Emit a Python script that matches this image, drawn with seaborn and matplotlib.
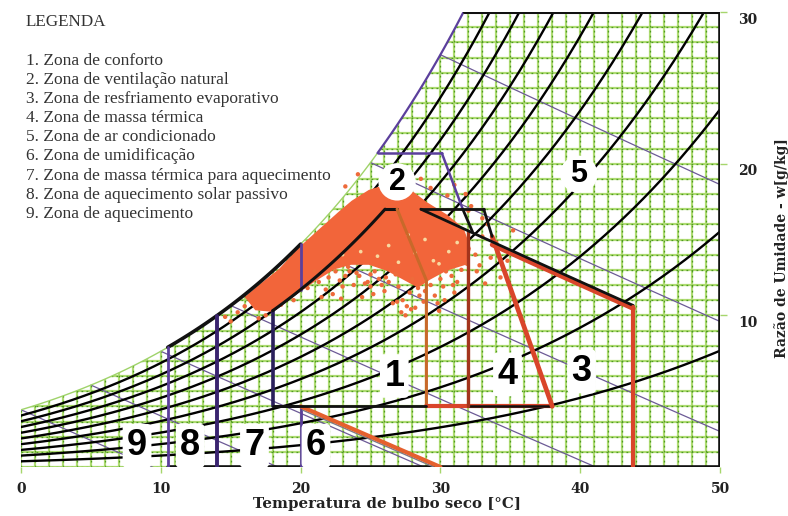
import numpy as np
import pandas as pd
import seaborn as sns
import matplotlib.pyplot as plt
from matplotlib.patches import Polygon
from matplotlib.transforms import ScaledTranslation

sns.set_theme(style="white")
plt.rcParams["font.family"] = ["DejaVu Sans"]

# ---------------------------------------------------------------- data
x_ticks = [0, 10, 20, 30, 40, 50]
y_ticks = [10, 20, 30]
rh_levels = [0.1, 0.2, 0.3, 0.4, 0.5, 0.6, 0.7, 0.8, 0.9]
twb_levels = [0, 5, 10, 15, 20, 25, 30]

legend_items = [
    "1. Zona de conforto",
    "2. Zona de ventilação natural",
    "3. Zona de resfriamento evaporativo",
    "4. Zona de massa térmica",
    "5. Zona de ar condicionado",
    "6. Zona de umidificação",
    "7. Zona de massa térmica para aquecimento",
    "8. Zona de aquecimento solar passivo",
    "9. Zona de aquecimento",
]

# dense part of the hourly climate cloud (T [°C], w [g/kg])
cloud_T = [16.1, 17.0, 18.5, 19.9, 21.1, 22.8, 23.7, 24.9, 25.9, 27.0, 28.0, 29.0,
           30.4, 31.6, 32.1, 31.8, 30.4, 29.2, 28.4, 27.4, 26.2, 24.9, 23.6, 22.4,
           21.0, 19.9, 18.0, 16.8]
cloud_w = [11.2, 11.9, 13.0, 14.4, 15.4, 16.8, 17.5, 18.2, 18.5, 18.4, 18.1, 17.4,
           16.6, 15.7, 14.4, 13.4, 13.0, 12.4, 11.9, 12.4, 13.0, 13.4, 13.4, 13.1,
           12.3, 11.6, 10.3, 10.4]

# scattered hours around the cloud
dots_T = [20.5, 21.3, 22.0, 22.8, 23.5, 24.2, 25.0, 25.6, 26.3, 27.0, 27.8, 28.5,
          29.3, 30.0, 30.8, 31.5, 32.5, 33.0, 21.8, 23.0, 24.6, 26.0, 27.3, 28.8,
          30.2, 31.2, 25.2, 27.6, 29.6, 32.8, 33.4, 34.0, 22.5, 24.0, 19.5, 17.5,
          16.0, 15.5, 27.2, 28.2, 29.8, 31.0, 33.6, 34.3, 26.6, 24.8, 23.2, 25.8,
          23.2, 24.1, 29.3, 30.5, 31.0, 32.2, 28.6, 31.8, 33.0,
          21.5, 22.3, 23.8, 25.3, 26.8, 28.0, 29.0, 30.4, 31.9, 32.6, 24.4, 26.9,
          28.4, 30.9, 17.0, 15.0, 14.6, 18.6, 22.9, 27.5, 29.9, 33.2, 34.8, 35.2,
          21.0, 23.4, 26.1, 28.9, 31.4, 32.0, 20.2, 25.0, 27.9, 30.3]
dots_w = [11.8, 12.2, 12.5, 12.3, 12.9, 12.6, 12.7, 12.4, 12.2, 11.9, 11.5, 11.3,
          12.0, 12.4, 12.6, 13.0, 14.0, 15.2, 11.7, 11.9, 12.1, 11.6, 11.0, 10.9,
          11.9, 12.2, 11.4, 10.6, 11.3, 13.3, 16.0, 14.8, 12.9, 12.8, 11.0, 10.0,
          10.6, 10.2, 10.2, 10.5, 10.8, 11.5, 13.8, 12.5, 10.8, 12.2, 12.6, 12.0,
          18.5, 19.3, 18.4, 17.9, 18.6, 17.2, 19.0, 18.0, 16.4,
          11.2, 11.4, 12.0, 12.9, 12.7, 12.4, 12.8, 12.9, 13.4, 12.9, 11.2, 10.9,
          11.8, 12.0, 9.8, 9.6, 9.9, 10.7, 11.1, 10.0, 10.3, 12.1, 13.6, 15.6,
          12.9, 13.2, 12.5, 11.6, 13.4, 16.9, 11.9, 11.9, 10.4, 11.0]
pale_T = [25.5, 27.0, 28.2, 29.5, 30.6, 26.3, 28.9, 24.3, 31.2, 27.7, 23.0, 29.9]
pale_w = [13.9, 13.5, 14.1, 13.6, 14.2, 14.6, 15.0, 14.2, 14.8, 15.3, 14.0, 13.4]

# zone boundaries
heat_T = [10.5, 14.0]                 # zones 9 | 8 | 7 limits
comfort_T = [18.0, 29.0]
comfort_w_min = 4.0
comfort_rh = 0.8
comfort_w_top = 17.0
comfort_apex_T = 26.9
comfort_knee = (29.0, 12.3)
humid_line_T = [20.0, 30.0]
humid_line_w = [4.0, 0.0]
vent_top_w = 20.7
vent_edge_T = [30.1, 31.6, 32.3]
vent_edge_w = [20.7, 17.0, 15.5]
mass_T = 32.0
mass_edge_T = [33.1, 33.7, 38.0]
mass_edge_w = [17.0, 15.2, 4.0]
evap_twb = 24.0
evap_T_range = [28.6, 43.8]

labels = ["1", "2", "3", "4", "5", "6", "7", "8", "9"]
label_T = [26.7, 26.9, 40.1, 34.8, 39.9, 21.1, 16.7, 12.1, 8.3]
label_w = [6.0, 18.8, 6.3, 6.1, 19.3, 1.4, 1.4, 1.4, 1.4]

# ---------------------------------------------------------- psychrometrics
P_ATM = 101.325


def w_of(T, rh=1.0):
    T = np.asarray(T, dtype=float)
    ps = 0.61078 * np.exp(17.27 * T / (T + 237.3))
    pv = rh * ps
    return 622.0 * pv / (P_ATM - pv)


def w_wetbulb(T, twb):
    T = np.asarray(T, dtype=float)
    ws = w_of(twb) / 1000.0
    return 1000.0 * ((2501 - 2.326 * twb) * ws - 1.006 * (T - twb)) / (
        2501 + 1.86 * T - 4.186 * twb)


def T_at_sat_w(w, rh=1.0):
    pv = w * P_ATM / (622.0 + w) / rh
    a = np.log(pv / 0.61078)
    return 237.3 * a / (17.27 - a)


T_top = T_at_sat_w(30.0)

# ---------------------------------------------------------------- figure
fig = plt.figure(figsize=(7.88, 5.16), dpi=100)
fig.patch.set_facecolor("white")
ax = fig.add_axes([21 / 788, 49 / 516, 699 / 788, 455 / 516])
ax.set_facecolor("white")
ax.set_xlim(0, 50)
ax.set_ylim(0, 30)
for s in ax.spines.values():
    s.set_visible(False)

# chart area below the saturation curve
Ts = np.linspace(0, T_top, 200)
region = np.vstack([np.column_stack([Ts, w_of(Ts)]), [[50, 30], [50, 0], [0, 0]]])
clip = Polygon(region, closed=True, fill=False, lw=0, transform=ax.transData)
ax.add_patch(clip)

# fine green grid (1 °C x 1 g/kg)
gkw = dict(zorder=1)
v1 = ax.vlines(np.arange(0, 51), 0, 30, colors="#aedc72", lw=1.6, **gkw)
h1 = ax.hlines(np.arange(0, 31), 0, 50, colors="#aedc72", lw=1.6, **gkw)
v2 = ax.vlines(np.arange(0, 51), 0, 30, colors="#4f9a22", lw=0.9,
               linestyles=(0, (1.4, 2.6)), **gkw)
h2 = ax.hlines(np.arange(0, 31), 0, 50, colors="#4f9a22", lw=0.9,
               linestyles=(0, (1.4, 2.6)), **gkw)
for c in (v1, h1, v2, h2):
    c.set_clip_path(clip)

# relative humidity curves
Tr = np.linspace(0, 50, 300)
rh_df = pd.concat([pd.DataFrame({"T": Tr, "w": w_of(Tr, r), "rh": r}) for r in rh_levels])
sns.lineplot(data=rh_df, x="T", y="w", units="rh", estimator=None, sort=False,
             color="black", lw=1.7, ax=ax, legend=False, zorder=3)

# wet-bulb lines
wb_frames = []
for t in twb_levels:
    Tw = np.linspace(t, 50, 200)
    ww = w_wetbulb(Tw, t)
    ok = (ww >= -0.5)
    wb_frames.append(pd.DataFrame({"T": Tw[ok], "w": ww[ok], "twb": t}))
wb_df = pd.concat(wb_frames)
sns.lineplot(data=wb_df, x="T", y="w", units="twb", estimator=None, sort=False,
             color="#6c5a96", lw=0.9, ax=ax, legend=False, zorder=2)

# climate cloud
ax.add_patch(Polygon(np.column_stack([cloud_T, cloud_w]), closed=True,
                     fc="#f2653a", ec="#f2653a", lw=1.5, zorder=4))
sns.scatterplot(x=dots_T, y=dots_w, color="#ee6a3a", s=10, edgecolor="none",
                ax=ax, zorder=4, legend=False)
sns.scatterplot(x=pale_T, y=pale_w, color="#f8d9a0", s=7, edgecolor="none",
                ax=ax, zorder=4, legend=False)

# ---------------------------------------------------------- zone outlines
BLACK, PURPLE, DPURPLE = "#111111", "#5b3f9c", "#3a2470"
ORANGE, RED, BROWN = "#e5602e", "#d9452a", "#a3341c"
Z = 6

def seg(xs, ys, c, lw, z=Z):
    ax.plot(xs, ys, color=c, lw=lw, solid_capstyle="round", zorder=z)

# saturation curve pieces
Tg1 = np.linspace(0, heat_T[0], 50)
seg(Tg1, w_of(Tg1), "#9fd36a", 1.0)
Tb = np.linspace(heat_T[0], 20, 60)
seg(Tb, w_of(Tb), BLACK, 2.6)
Tg2 = np.linspace(20, T_at_sat_w(vent_top_w), 40)
seg(Tg2, w_of(Tg2), "#9fd36a", 1.0, z=3)
Tp = np.linspace(T_at_sat_w(vent_top_w), T_top, 60)
seg(Tp, w_of(Tp), PURPLE, 1.6)

# frame
seg([T_top, 50], [30, 30], BLACK, 2.2)
seg([50, 50], [0, 30], BLACK, 2.6)
seg([heat_T[0], 50], [0, 0], BLACK, 2.6)
seg([0, heat_T[0]], [0, 0], "#9fd36a", 1.0)

# heating zones 9 / 8 / 7
seg([heat_T[0]] * 2, [0, w_of(heat_T[0])], PURPLE, 2.0)
seg([heat_T[1]] * 2, [0, w_of(heat_T[1])], DPURPLE, 2.8)
seg([20, 20], [0, comfort_w_min], PURPLE, 2.0)
seg([20, 20], [w_of(20, comfort_rh), w_of(20)], PURPLE, 2.0)
seg([comfort_T[0], 20], [comfort_w_min] * 2, BLACK, 2.0)

# comfort zone
seg([comfort_T[0]] * 2, [comfort_w_min, w_of(comfort_T[0], comfort_rh)], "#2a1f5c", 2.6)
T80 = np.linspace(comfort_T[0], T_at_sat_w(comfort_w_top, comfort_rh), 60)
seg(T80, w_of(T80, comfort_rh), BLACK, 2.2)
seg([T80[-1], comfort_apex_T], [comfort_w_top] * 2, BLACK, 2.2)
seg([comfort_apex_T, comfort_knee[0], comfort_knee[0]],
    [comfort_w_top, comfort_knee[1], comfort_w_min], "#c8692a", 2.2)

# humidification edge
seg(np.array(humid_line_T) + 0.15, np.array(humid_line_w) - 0.25, "#7a7a8a", 1.0)
seg(humid_line_T, humid_line_w, ORANGE, 3.0)

# ventilation zone
seg([T_at_sat_w(vent_top_w), vent_edge_T[0]], [vent_top_w] * 2, PURPLE, 1.8)
seg(vent_edge_T[:2], vent_edge_w[:2], PURPLE, 1.8)
seg(vent_edge_T[1:], vent_edge_w[1:], BLACK, 2.0)

# thermal-mass / evaporative-cooling zones
seg([comfort_knee[0], mass_edge_T[2]], [comfort_w_min] * 2, RED, 3.0)
seg([comfort_T[0], comfort_knee[0]], [comfort_w_min] * 2, BLACK, 2.0)
seg([mass_T, mass_edge_T[2]], [comfort_w_min] * 2, BLACK, 1.8)
seg([mass_T, mass_T], [comfort_w_min, w_wetbulb(mass_T, evap_twb)], BROWN, 2.4)
seg(mass_edge_T[1:], mass_edge_w[1:], RED, 3.4)
seg(mass_edge_T[:2], mass_edge_w[:2], BLACK, 2.0)
seg([evap_T_range[0], mass_edge_T[0]], [comfort_w_top] * 2, BLACK, 2.0)

Te = np.linspace(mass_edge_T[1], evap_T_range[1], 60)
seg(Te, w_wetbulb(Te, evap_twb) - 0.12, RED, 3.4)
Te2 = np.linspace(evap_T_range[0], evap_T_range[1], 80)
seg(Te2, w_wetbulb(Te2, evap_twb) + 0.08, BLACK, 2.0)
seg([evap_T_range[1]] * 2, [0, w_wetbulb(evap_T_range[1], evap_twb)], RED, 3.0)

# zone numbers
for lab, tx, wy in zip(labels, label_T, label_w):
    big = lab not in ("2", "5")
    ax.text(tx, wy, lab, ha="center", va="center", fontsize=26 if big else 22,
            fontweight="bold", family=["Liberation Sans", "DejaVu Sans"],
            color="black", zorder=10,
            bbox=dict(boxstyle="circle,pad=0.12" if not big else "round,pad=0.12",
                      fc="white", ec="none"))

# axes text
tick_font = dict(family=["DejaVu Serif"], fontweight="bold", fontsize=10, color="#222222")
ax.set_xticks(x_ticks)
ax.set_xticklabels([str(v) for v in x_ticks], **tick_font)
ax.yaxis.tick_right()
ax.set_yticks(y_ticks)
ax.set_yticklabels([str(v) for v in y_ticks], **tick_font)
ax.tick_params(axis="x", length=4, width=1, color="#a6d66c", pad=7, bottom=True)
ax.tick_params(axis="y", length=5, width=1, color="#a6d66c", pad=8, right=True, left=False)
shift = ScaledTranslation(0, -6 / 100, fig.dpi_scale_trans)
for t in ax.get_yticklabels():
    t.set_transform(t.get_transform() + shift)

ax.set_xlabel("Temperatura de bulbo seco [°C]", family=["DejaVu Serif"],
              fontweight="bold", fontsize=10.8, color="#222222")
ax.xaxis.set_label_coords((387 - 21) / 699, (467 - 497) / 455)
ax.yaxis.set_label_position("right")
ax.set_ylabel("Razão de Umidade - w[g/kg]", family=["DejaVu Serif"],
              fontweight="bold", fontsize=10, color="#222222", rotation=90)
ax.yaxis.set_label_coords((774 - 21) / 699, (467 - 248) / 455)

# legend block
serif = ["Liberation Serif", "DejaVu Serif"]
fig.text(26 / 788, 1 - 22 / 516, "LEGENDA", family=serif, fontsize=12.3,
         color="#333333", va="center", ha="left")
for i, item in enumerate(legend_items):
    fig.text(26 / 788, 1 - (61 + 19.1 * i) / 516, item, family=serif, fontsize=12.5,
             color="#333333", va="center", ha="left")

fig.savefig("out.png", dpi=100, facecolor="white")
